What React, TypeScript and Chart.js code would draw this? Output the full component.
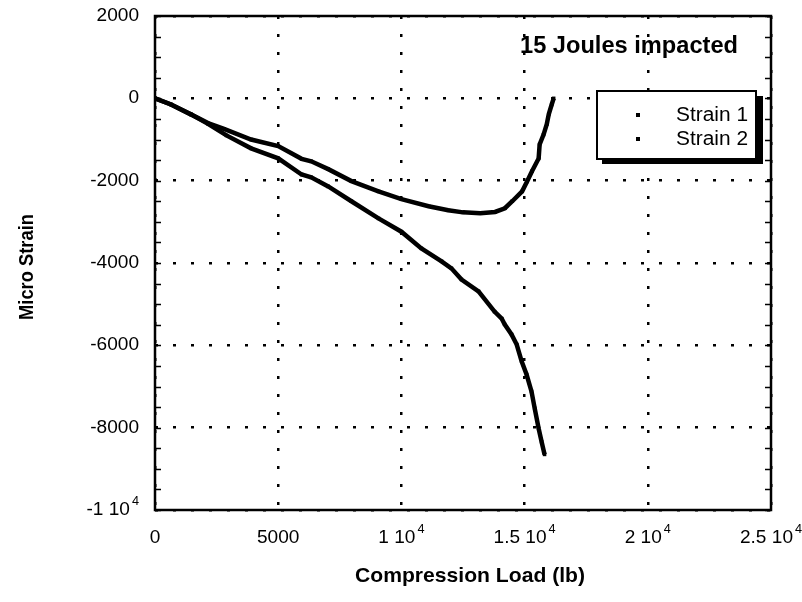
import React, { useEffect, useRef } from "react";
import { Chart, registerables } from "chart.js";

Chart.register(...registerables);

// ---- data ----
const xTickValues = [0, 5000, 10000, 15000, 20000, 25000];
const xTickMain = ["0", "5000", "1 10", "1.5 10", "2 10", "2.5 10"];
const xTickSup = ["", "", "4", "4", "4", "4"];

const yTickValues = [2000, 0, -2000, -4000, -6000, -8000, -10000];
const yTickMain = ["2000", "0", "-2000", "-4000", "-6000", "-8000", "-1 10"];
const yTickSup = ["", "", "", "", "", "", "4"];

const seriesNames = ["Strain 1", "Strain 2"];

const strain1Load = [0, 650, 1460, 2150, 2800, 3900, 5000, 5950, 6340, 7030, 7970, 9070, 10000, 11100, 11900, 12500, 13200, 13800, 14200, 14500, 14900, 15100, 15300, 15570, 15610, 15770, 15900, 15980, 16100, 16180];
const strain1Micro = [0, -150, -390, -600, -740, -1000, -1160, -1470, -1530, -1720, -2010, -2260, -2450, -2620, -2720, -2770, -2790, -2760, -2670, -2500, -2260, -2020, -1770, -1460, -1120, -880, -630, -390, -150, 0];

const strain2Load = [0, 650, 1460, 2150, 2900, 3900, 5000, 5950, 6340, 7030, 7970, 9070, 10000, 10810, 11630, 12030, 12440, 13130, 13780, 14070, 14190, 14470, 14680, 14880, 15080, 15280, 15410, 15570, 15690, 15810];
const strain2Micro = [0, -150, -390, -620, -900, -1215, -1458, -1850, -1920, -2140, -2500, -2916, -3240, -3645, -3960, -4130, -4400, -4690, -5180, -5350, -5490, -5735, -5980, -6390, -6710, -7120, -7530, -8020, -8340, -8650];

const chartTitle = "15 Joules impacted";
const xTitle = "Compression Load (lb)";
const yTitle = "Micro Strain";

const FONT = '"Liberation Sans", Arial, Helvetica, sans-serif';

function drawTick(ctx: CanvasRenderingContext2D, main: string, sup: string, x: number, y: number, align: "center" | "right") {
  const size = 18;
  const sx = 1.06;
  ctx.font = `${size}px ${FONT}`;
  const w1 = ctx.measureText(main).width * sx;
  ctx.font = `${Math.round(size * 0.68)}px ${FONT}`;
  const w2 = sup ? ctx.measureText(sup).width * sx + 2 : 0;
  const total = w1 + w2;
  const left = align === "center" ? x - total / 2 : x - total;
  ctx.save();
  ctx.translate(left, y);
  ctx.scale(sx, 1);
  ctx.fillStyle = "#000";
  ctx.textAlign = "left";
  ctx.textBaseline = "middle";
  ctx.font = `${size}px ${FONT}`;
  ctx.fillText(main, 0, 0);
  if (sup) {
    ctx.font = `${Math.round(size * 0.68)}px ${FONT}`;
    ctx.fillText(sup, (w1 + 2) / sx, -8);
  }
  ctx.restore();
}

function drawFitText(ctx: CanvasRenderingContext2D, text: string, x: number, y: number, font: string, width: number, align: "left" | "center") {
  ctx.save();
  ctx.font = font;
  const m = ctx.measureText(text).width;
  const sx = width / m;
  const left = align === "center" ? x - width / 2 : x;
  ctx.translate(left, y);
  ctx.scale(sx, 1);
  ctx.fillStyle = "#000";
  ctx.textAlign = "left";
  ctx.textBaseline = "middle";
  ctx.fillText(text, 0, 0);
  ctx.restore();
}

const decorPlugin = {
  id: "decor",
  afterDatasetsDraw(chart: any) {
    const ctx: CanvasRenderingContext2D = chart.ctx;
    const { left, right, top, bottom } = chart.chartArea;
    const ys = chart.scales.y;
    ctx.save();
    ctx.strokeStyle = "#000";
    ctx.lineWidth = 1.5;
    ctx.setLineDash([]);
    for (let v = -10000; v <= 2000; v += 500) {
      const py = Math.round(ys.getPixelForValue(v)) + 0.5;
      ctx.beginPath();
      ctx.moveTo(left, py);
      ctx.lineTo(left + 6, py);
      ctx.moveTo(right, py);
      ctx.lineTo(right - 6, py);
      ctx.stroke();
    }
    ctx.lineWidth = 2.5;
    ctx.strokeRect(left, top, right - left, bottom - top);
    ctx.restore();
  },
  afterDraw(chart: any) {
    const ctx: CanvasRenderingContext2D = chart.ctx;
    const xs = chart.scales.x;
    const ys = chart.scales.y;
    const { bottom } = chart.chartArea;
    xTickValues.forEach((v, i) => {
      drawTick(ctx, xTickMain[i], xTickSup[i], xs.getPixelForValue(v), bottom + 28, "center");
    });
    yTickValues.forEach((v, i) => {
      drawTick(ctx, yTickMain[i], yTickSup[i], 139, ys.getPixelForValue(v), "right");
    });
    drawFitText(ctx, xTitle, 470, 576, `bold 21px ${FONT}`, 230, "center");
    ctx.save();
    ctx.translate(27, 267);
    ctx.rotate(-Math.PI / 2);
    drawFitText(ctx, yTitle, 0, 0, `bold 21px ${FONT}`, 106, "center");
    ctx.restore();
    drawFitText(ctx, chartTitle, 520, 47, `bold 23px ${FONT}`, 218, "left");
    // legend
    ctx.save();
    ctx.fillStyle = "#000";
    ctx.fillRect(602, 96, 161, 68);
    ctx.fillStyle = "#fff";
    ctx.fillRect(597, 91, 159, 68);
    ctx.strokeStyle = "#000";
    ctx.lineWidth = 2;
    ctx.strokeRect(597, 91, 159, 68);
    ctx.restore();
    chart.data.datasets.forEach((ds: any, i: number) => {
      const cy = 115 + i * 24;
      ctx.fillStyle = ds.borderColor;
      ctx.fillRect(636, cy - 2, 4, 4);
      drawFitText(ctx, ds.label, 676, cy, `20px ${FONT}`, 72, "left");
    });
  },
};

export default function App() {
  const ref = useRef<HTMLCanvasElement | null>(null);
  useEffect(() => {
    document.body.style.margin = "0";
    const canvas = ref.current!;
    const mk = (xs: number[], ys: number[]) => xs.map((x, i) => ({ x, y: ys[i] }));
    const dsStyle = {
      showLine: true,
      borderColor: "#000",
      backgroundColor: "#000",
      borderWidth: 4.5,
      pointStyle: "rect",
      pointRadius: 2.5,
      pointBorderWidth: 0,
    };
    const chart = new Chart(canvas, {
      type: "scatter",
      data: {
        datasets: [
          { label: seriesNames[0], data: mk(strain1Load, strain1Micro), ...dsStyle },
          { label: seriesNames[1], data: mk(strain2Load, strain2Micro), ...dsStyle },
        ],
      },
      options: {
        responsive: false,
        animation: false,
        devicePixelRatio: 1,
        layout: { padding: { top: 16, right: 31, left: 0, bottom: 0 } },
        plugins: { legend: { display: false }, tooltip: { enabled: false } },
        scales: {
          x: {
            type: "linear",
            min: 0,
            max: 25000,
            afterBuildTicks: (s: any) => {
              s.ticks = xTickValues.map((v) => ({ value: v }));
            },
            afterFit: (s: any) => {
              s.height = 92;
            },
            ticks: { display: false },
            grid: { color: "#000", lineWidth: 2.5, drawTicks: false },
            border: { display: false, dash: [3, 15] },
          },
          y: {
            type: "linear",
            min: -10000,
            max: 2000,
            afterBuildTicks: (s: any) => {
              s.ticks = yTickValues.map((v) => ({ value: v }));
            },
            afterFit: (s: any) => {
              s.width = 155;
            },
            ticks: { display: false },
            grid: { color: "#000", lineWidth: 2.5, drawTicks: false },
            border: { display: false, dash: [3, 15] },
          },
        },
      },
      plugins: [decorPlugin],
    } as any);
    return () => chart.destroy();
  }, []);
  return <canvas ref={ref} width={802} height={602} style={{ display: "block", width: 802, height: 602 }} />;
}
